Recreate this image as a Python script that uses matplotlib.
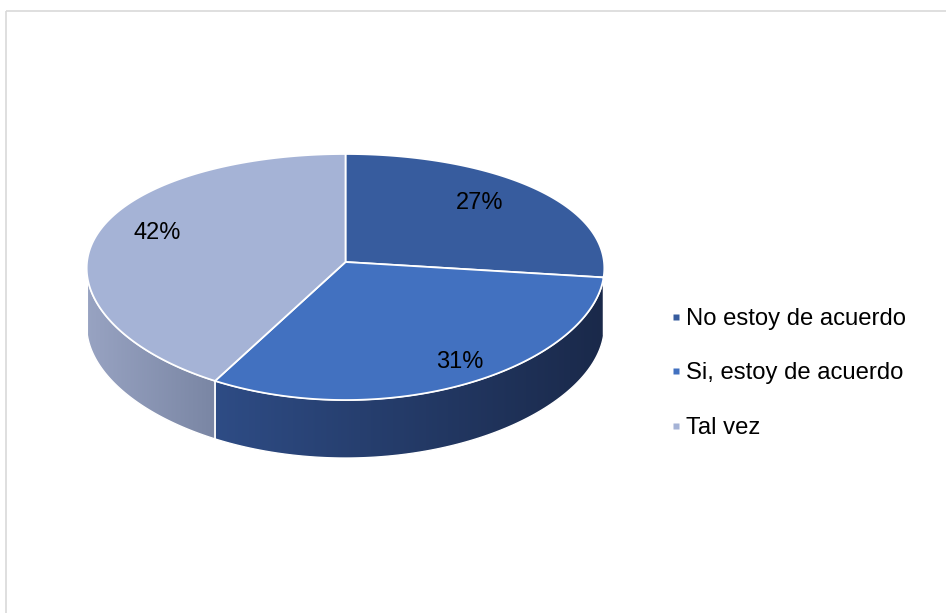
import numpy as np
import matplotlib
matplotlib.use("Agg")
import matplotlib.pyplot as plt
from matplotlib.patches import Polygon, Rectangle
from matplotlib.lines import Line2D
from matplotlib.colors import LinearSegmentedColormap

# ---- data ----
categories = ["No estoy de acuerdo", "Si, estoy de acuerdo", "Tal vez"]
shares = [27, 31, 42]
value_labels = ["27%", "31%", "42%"]

top_colors = ["#375C9E", "#4271C0", "#A5B3D6"]
wall_colors = [("#2C4C88", "#22386A"), ("#2E4C85", "#1A294A"), ("#98A3C2", "#7A86A4")]

# ---- canvas in pixel units ----
W, H = 946, 613
fig = plt.figure(figsize=(W / 100, H / 100), dpi=100)
ax = fig.add_axes([0, 0, 1, 1])
ax.set_xlim(0, W)
ax.set_ylim(H, 0)
ax.axis("off")

ax.add_patch(Rectangle((5.5, 10.5), 960, 620, fill=False,
                       edgecolor="#D9D9D9", lw=1.2, zorder=0))

# perspective-tilted disc
cx, cy = 345.5, 262.0
a, b, k = 258.5, 121.2, 0.122
px = 0.41          # horizontal share of the perspective stretch
depth = 58.0


def project(phi, r=1.0):
    x = r * np.cos(phi)
    yc = -r * np.sin(phi)
    d = 1 - k * yc
    return cx + a * x / d ** px, cy + b * yc / d


cum = np.concatenate([[0], np.cumsum(shares)]) / np.sum(shares)
starts = np.pi / 2 - 2 * np.pi * cum[:-1]
ends = np.pi / 2 - 2 * np.pi * cum[1:]

# silhouette: front wall is visible between these angles
phi_s = np.arcsin(k)
vis_lo, vis_hi = -np.pi + phi_s, -phi_s

# side walls
for i in range(len(shares)):
    hi, lo = starts[i], ends[i]
    w_hi = min(hi, vis_hi)
    w_lo = max(lo, vis_lo)
    if w_hi - w_lo <= 1e-3:
        continue
    phis = np.linspace(w_hi, w_lo, 200)
    xs, ys = project(phis)
    poly_xy = np.vstack([np.column_stack([xs, ys]),
                         np.column_stack([xs[::-1], ys[::-1] + depth])])
    poly = Polygon(poly_xy, closed=True, facecolor="none", edgecolor="none")
    ax.add_patch(poly)
    cmap = LinearSegmentedColormap.from_list("wall%d" % i,
                                             [wall_colors[i][0], wall_colors[i][1]])
    x0, x1 = xs.min(), xs.max()
    y0, y1 = ys.min(), ys.max() + depth
    grad = np.linspace(0, 1, 256)[None, :]
    im = ax.imshow(grad, cmap=cmap, extent=(x0, x1, y1, y0),
                   aspect="auto", zorder=1, interpolation="bilinear")
    im.set_clip_path(poly)
    ax.add_patch(Polygon(poly_xy, closed=True, facecolor="none",
                         edgecolor="white", lw=1.0, zorder=2))

# keep pixel limits after imshow
ax.set_xlim(0, W)
ax.set_ylim(H, 0)

# top faces
for i in range(len(shares)):
    phis = np.linspace(starts[i], ends[i], 300)
    xs, ys = project(phis)
    pts = np.vstack([[cx, cy], np.column_stack([xs, ys])])
    ax.add_patch(Polygon(pts, closed=True, facecolor=top_colors[i],
                         edgecolor="white", lw=1.3, joinstyle="round", zorder=3))

# value labels
nudges = [(-2, -4), (27, 16), (-10, -8)]
for i in range(len(shares)):
    mid = (starts[i] + ends[i]) / 2
    lx, ly = project(mid, 0.72)
    ax.text(lx + nudges[i][0], ly + nudges[i][1], value_labels[i],
            ha="center", va="center", fontsize=17,
            family="Liberation Sans", color="black", zorder=5)

# legend
handles = [Line2D([], [], linestyle="none", marker="s", markersize=5,
                  markerfacecolor=c, markeredgecolor="none") for c in top_colors]
fig.legend(handles, categories, loc="upper left",
           bbox_to_anchor=(670 / W, 1 - 308 / H), frameon=False,
           prop={"family": "Liberation Sans", "size": 17.2},
           handlelength=0.5, handletextpad=0.17, labelspacing=1.36,
           borderpad=0, borderaxespad=0)

fig.savefig("out.png", dpi=100, facecolor="white")
